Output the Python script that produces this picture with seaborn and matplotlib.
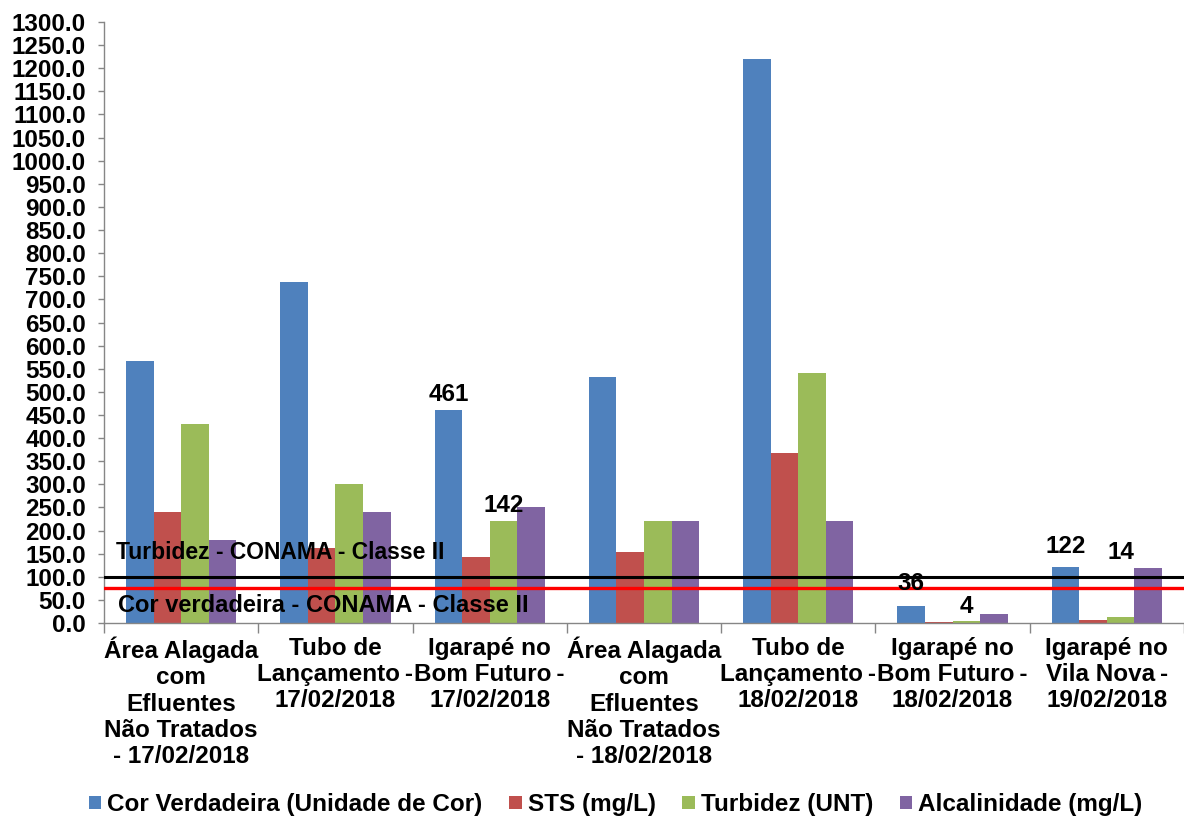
import matplotlib
matplotlib.use("Agg")
import matplotlib.pyplot as plt
import numpy as np
import pandas as pd
import seaborn as sns

# Sampling sites (x-axis categories, already wrapped as shown on the axis)
locais = [
    "Área Alagada\ncom\nEfluentes\nNão Tratados\n- 17/02/2018",
    "Tubo de\nLançamento\u2009-\n17/02/2018",
    "Igarapé no\nBom Futuro\u2009-\n17/02/2018",
    "Área Alagada\ncom\nEfluentes\nNão Tratados\n- 18/02/2018",
    "Tubo de\nLançamento\u2009-\n18/02/2018",
    "Igarapé no\nBom Futuro\u2009-\n18/02/2018",
    "Igarapé no\nVila Nova\u2009-\n19/02/2018",
]

parametros = [
    "Cor Verdadeira (Unidade de Cor)",
    "STS (mg/L)",
    "Turbidez (UNT)",
    "Alcalinidade (mg/L)",
]

cor_verdadeira = [567, 738, 461, 532, 1220, 36, 122]
sts = [240, 163, 142, 153, 367, 3, 6]
turbidez = [430, 300, 220, 220, 540, 4, 14]
alcalinidade = [180, 240, 252, 220, 220, 20, 120]

cores = ["#4F81BD", "#C0504D", "#9BBB59", "#8064A2"]

# CONAMA Classe II limits
limite_turbidez = 100
limite_cor = 75

y_ticks = np.arange(0, 1301, 50)

# Value labels: (site index, series index holding the value, series index of bar it sits on, offset in points)
rotulos = [
    (2, 0, 0, 3),
    (2, 1, 2, 3),
    (5, 0, 0, 8),
    (5, 2, 2, 2),
    (6, 0, 0, 6),
    (6, 2, 2, 38),
]

series = [cor_verdadeira, sts, turbidez, alcalinidade]
df = pd.DataFrame({
    "local": np.repeat(np.arange(len(locais)), len(parametros)),
    "parametro": parametros * len(locais),
    "valor": [series[j][i] for i in range(len(locais)) for j in range(len(parametros))],
})
df["local"] = df["local"].map(dict(enumerate(locais)))

sns.set_theme(style="white")
plt.rcParams["font.family"] = ["Liberation Sans", "DejaVu Sans"]
plt.rcParams["font.weight"] = "bold"
plt.rcParams["text.color"] = "black"
plt.rcParams["xtick.labelcolor"] = "black"
plt.rcParams["ytick.labelcolor"] = "black"

fig = plt.figure(figsize=(11.84, 8.16), dpi=100)
ax = fig.add_axes([0.0878, 0.2365, 0.9122, 0.7365])

sns.barplot(
    data=df, x="local", y="valor", hue="parametro",
    order=locais, hue_order=parametros, palette=cores,
    saturation=1, width=0.715, linewidth=0, ax=ax, legend=True,
)

ax.axhline(limite_turbidez, color="black", lw=2.2, zorder=3)
ax.axhline(limite_cor, color="#FF0000", lw=2.4, zorder=3)

fs = 17.5
ax.text(-0.425, 153, "Turbidez - CONAMA - Classe II", fontsize=16.5,
        fontweight="bold", ha="left", va="center", zorder=4, color="black")
ax.text(-0.41, 37, "Cor verdadeira - CONAMA - Classe II", fontsize=17,
        fontweight="bold", ha="left", va="center", zorder=4, color="black")

for i, j_val, j_bar, off in rotulos:
    barra = ax.containers[j_bar][i]
    xc = barra.get_x() + barra.get_width() / 2
    ax.annotate(f"{series[j_val][i]:g}", (xc, barra.get_height()),
                xytext=(0, off), textcoords="offset points",
                ha="center", va="bottom", fontsize=fs, fontweight="bold",
                color="black")

ax.set_ylim(0, 1300)
ax.set_xlim(-0.5, 6.5)
ax.set_yticks(y_ticks)
ax.set_yticklabels([f"{v:.1f}" for v in y_ticks], fontsize=fs, fontweight="bold")

# Category labels on minor ticks, separators on major ticks
ax.set_xticks(np.arange(-0.5, 7.0, 1.0))
ax.set_xticklabels([])
ax.set_xticks(np.arange(7), minor=True)
ax.set_xticklabels(locais, minor=True, fontsize=fs, fontweight="bold",
                   linespacing=1.17)
ax.tick_params(axis="x", which="major", direction="out", length=7,
               color="#868686", width=1, bottom=True)
ax.tick_params(axis="x", which="minor", length=0, pad=10)
ax.tick_params(axis="y", direction="out", length=4, color="#868686",
               width=1, left=True, pad=9)

ax.set_xlabel("")
ax.set_ylabel("")
for s in ["top", "right"]:
    ax.spines[s].set_visible(False)
for s in ["left", "bottom"]:
    ax.spines[s].set_color("#868686")
    ax.spines[s].set_linewidth(1)

handles, labels = ax.get_legend_handles_labels()
ax.get_legend().remove()
fig.legend(handles, labels, loc="lower center", bbox_to_anchor=(0.52, -0.018),
           ncol=4, frameon=False, prop={"weight": "bold", "size": fs},
           handlelength=0.5, handleheight=0.5, handletextpad=0.25,
           columnspacing=1.1, borderaxespad=0.2)

fig.savefig("out.png", dpi=100)
